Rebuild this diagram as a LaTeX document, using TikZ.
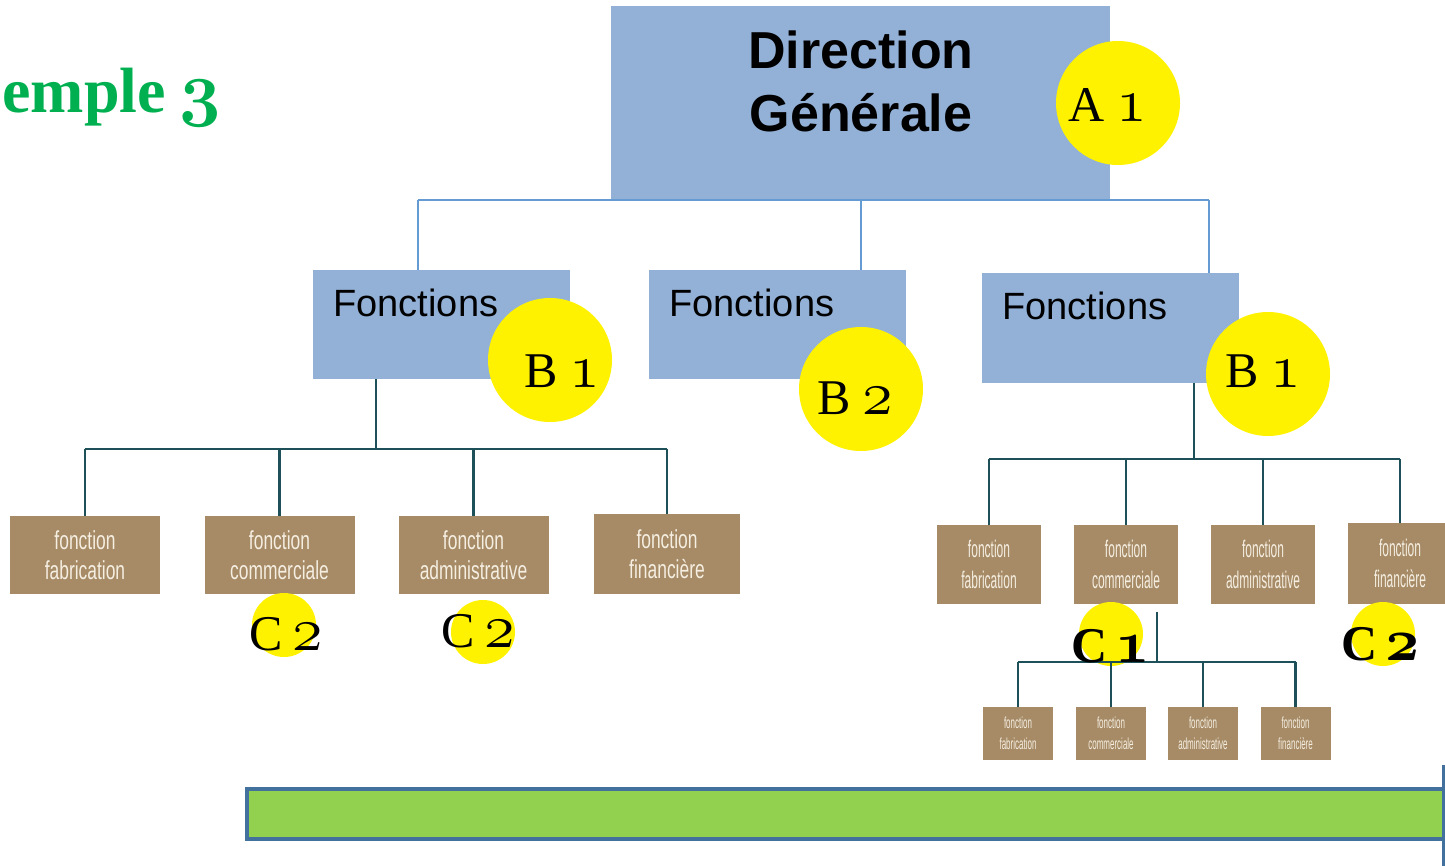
\documentclass[tikz,border=0pt]{standalone}
\usepackage{fontspec}
\newfontfamily\arialf{Liberation Sans}
\newfontfamily\condA[FakeStretch=0.67]{Liberation Sans}
\newfontfamily\condB[FakeStretch=0.5]{Liberation Sans}
\newfontfamily\serifB{Liberation Serif}
\newcommand{\osn}[1]{\scalebox{1.25}{\fontsize{24.88}{25}\usefont{OML}{cmm}{m}{it}#1}}
\newcommand{\osnb}[1]{\scalebox{1.2}{\fontsize{24.88}{25}\usefont{OML}{cmm}{b}{it}#1}}
\newcommand{\osnt}[1]{\scalebox{1.45}{\fontsize{24.88}{25}\usefont{OML}{cmm}{b}{it}#1}}
\definecolor{boxblue}{RGB}{147,177,215}
\definecolor{topblue}{RGB}{100,155,210}
\definecolor{treeteal}{RGB}{30,80,90}
\definecolor{brownc}{RGB}{166,139,102}
\definecolor{browntext}{RGB}{245,238,225}
\definecolor{titlegreen}{RGB}{0,176,80}
\definecolor{barfill}{RGB}{146,208,80}
\definecolor{barline}{RGB}{65,113,156}
\tikzset{
 bluebox/.style={rectangle, fill=boxblue, inner sep=0pt, minimum width=128.5pt, minimum height=54.5pt},
 brownA/.style={rectangle, fill=brownc, inner sep=0pt, minimum width=75pt, minimum height=39pt, text=browntext, align=center, font=\condA\fontsize{13}{15}\selectfont},
 brownB/.style={rectangle, fill=brownc, inner sep=0pt, minimum width=52pt, minimum height=39.5pt, text=browntext, align=center, font=\condB\fontsize{12}{15.5}\selectfont},
 brownC/.style={rectangle, fill=brownc, inner sep=0pt, minimum width=35pt, minimum height=26.5pt, text=browntext, align=center, font=\condB\fontsize{8}{10.5}\selectfont},
 badge/.style={circle, fill=yellow, minimum size=62pt, inner sep=0pt},
 smallbadge/.style={circle, fill=yellow, minimum size=32pt, inner sep=0pt},
 badgetext/.style={inner sep=0pt, anchor=base, font=\serifB\fontsize{25}{25}\selectfont},
 boldbadgetext/.style={inner sep=0pt, anchor=base, font=\serifB\bfseries\fontsize{25}{25}\selectfont},
 fonctext/.style={inner sep=0pt, anchor=base west, font=\arialf\fontsize{19}{19}\selectfont},
 topline/.style={draw=topblue, line width=1pt},
 treeline/.style={draw=treeteal, line width=1.2pt},
}
\begin{document}
\begin{tikzpicture}[x=0.5pt,y=-0.5pt]
\useasboundingbox (0,0) rectangle (1445,866);

% title
\node[inner sep=0pt, anchor=base west, text=titlegreen, font=\serifB\bfseries\fontsize{32}{32}\selectfont] (title) at (2,113) {emple\hspace{7pt}\osnt{3}};

% boxes
\node[rectangle, fill=boxblue, inner sep=0pt, minimum width=249.5pt, minimum height=96.5pt] (dg) at (860.5,102.5) {};
\node[bluebox] (fL) at (441.5,324.5) {};
\node[bluebox] (fM) at (777.5,324.5) {};
\node[bluebox] (fR) at (1110.5,328) {};

\node[brownA] (b1) at (85,555) {fonction\\fabrication};
\node[brownA] (b2) at (279.5,555) {fonction\\commerciale};
\node[brownA] (b3) at (473.5,555) {fonction\\administrative};
\node[brownA, minimum width=73pt, minimum height=40pt] (b4) at (667,554) {fonction\\financière};

\node[brownB] (r1) at (989,564.5) {fonction\\fabrication};
\node[brownB] (r2) at (1126,564.5) {fonction\\commerciale};
\node[brownB] (r3) at (1263,564.5) {fonction\\administrative};
\node[brownB, minimum height=40.5pt] (r4) at (1400,563.5) {fonction\\financière};

\node[brownC] (s1) at (1018,733.5) {fonction\\fabrication};
\node[brownC] (s2) at (1111,733.5) {fonction\\commerciale};
\node[brownC] (s3) at (1203,733.5) {fonction\\administrative};
\node[brownC] (s4) at (1295.5,733.5) {fonction\\financière};

% green bar
\node[rectangle, fill=barfill, draw=barline, line width=2pt, inner sep=0pt, minimum width=606.5pt, minimum height=25pt] (bar) at (853.5,813.5) {};
\coordinate (edgeTop) at (1443,765);
\coordinate (edgeBot) at (1443,866);
\draw[draw=barline, line width=1.5pt] (edgeTop) -- (edgeBot);

% circles
\node[badge] (cA) at (1118,103) {};
\node[badge] (cB1) at (550,360) {};
\node[badge] (cB2) at (861,389) {};
\node[badge] (cB3) at (1268,374) {};
\node[smallbadge] (cC1) at (284,625) {};
\node[smallbadge] (cC2) at (483,632) {};
\node[smallbadge] (cC3) at (1111,634) {};
\node[smallbadge] (cC4) at (1383,634) {};

% top connectors
\coordinate (busL) at (418,200);
\coordinate (busR) at (1209,200);
\draw[topline] (busL) -- (busR);
\draw[topline] (busL) -- (busL |- fL.north);
\draw[topline] (dg.south) -- (dg.south |- fM.north);
\draw[topline] (busR) -- (busR |- fR.north);

% left tree
\coordinate (jL) at (376,449);
\draw[treeline] (jL |- fL.south) -- (jL);
\draw[treeline] (b1.north |- jL) -- (b4.north |- jL);
\foreach \n in {b1,b2,b3,b4} \draw[treeline] (\n.north |- jL) -- (\n.north);

% right tree
\coordinate (jR) at (1194,459);
\draw[treeline] (jR |- fR.south) -- (jR);
\draw[treeline] (r1.north |- jR) -- (r4.north |- jR);
\foreach \n in {r1,r2,r3,r4} \draw[treeline] (\n.north |- jR) -- (\n.north);

% sub tree
\coordinate (sTop) at (1157,612);
\coordinate (jS) at (1157,662);
\draw[treeline] (sTop) -- (jS);
\draw[treeline] (s1.north |- jS) -- (s4.north |- jS);
\foreach \n in {s1,s2,s3,s4} \draw[treeline] (\n.north |- jS) -- (\n.north);

% texts
\node[inner sep=0pt, anchor=north, align=center, font=\arialf\bfseries\fontsize{26}{31.5}\selectfont] (tdg) at (861,30) {Direction\\Générale};
\node[fonctext] (tfL) at (333,316) {Fonctions};
\node[fonctext] (tfM) at (669,316) {Fonctions};
\node[fonctext] (tfR) at (1002,320) {Fonctions};

\node[badgetext] (tA) at (1108,122) {A\hspace{6pt}\osn{1}};
\node[badgetext] (tB1) at (562,387) {B\hspace{6pt}\osn{1}};
\node[badgetext] (tB2) at (855,414) {B\hspace{6pt}\osn{2}};
\node[badgetext] (tB3) at (1263,387) {B\hspace{6pt}\osn{1}};
\node[badgetext] (tC1) at (286,650) {C\hspace{5pt}\osn{2}};
\node[badgetext] (tC2) at (478,647) {C\hspace{5pt}\osn{2}};
\node[boldbadgetext] (tC3) at (1111,662) {C\hspace{4pt}\osnb{1}};
\node[boldbadgetext] (tC4) at (1381,660) {C\hspace{4pt}\osnb{2}};
\end{tikzpicture}
\end{document}
